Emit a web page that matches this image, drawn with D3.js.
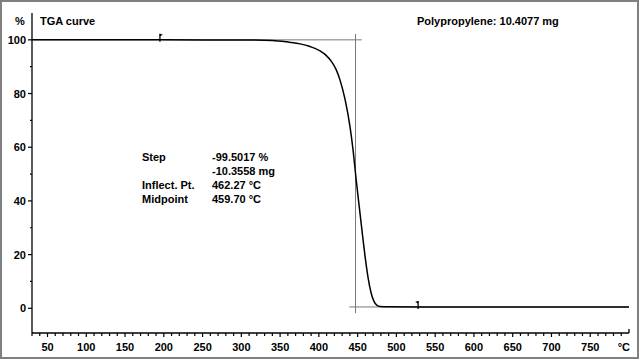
<!DOCTYPE html>
<html><head><meta charset="utf-8">
<script src="https://cdn.jsdelivr.net/npm/d3@7"></script>
<style>html,body{margin:0;padding:0;background:#fff}svg{display:block}text{font-family:"Liberation Sans",Arial,sans-serif;font-weight:bold;font-size:11px;fill:#000}</style>
</head><body><svg id="c" width="640" height="360"></svg>
<script>
// TGA data: temperature (°C) and mass (%)
const temps  = [30, 200, 300, 340, 362, 375.7, 388.6, 401.5, 409, 416.6, 422, 427.3, 433.7, 440.2, 444.0, 447.9, 451.8, 455.6, 459.5, 463.4, 467.3, 471.1, 475.0, 478.9, 490, 530, 600, 700, 800];
const masses = [100, 100, 99.95, 99.8, 99.1, 98.5, 97.5, 95.9, 94.3, 91.8, 89.1, 85.0, 77.9, 67.6, 59.2, 48.5, 38.5, 29.0, 19.5, 11.5, 5.8, 2.6, 1.1, 0.7, 0.55, 0.5, 0.5, 0.5, 0.5];
const xTickLabels = [50, 100, 150, 200, 250, 300, 350, 400, 450, 500, 550, 600, 650, 700, 750];
const yTickLabels = [0, 20, 40, 60, 80, 100];
const yMinorTicks = [10, 30, 50, 70, 90];
const stepStartLevel = 100, stepEndLevel = 0.5, stepTemp = 447.3;
const limitTemps = [195, 528];
const title = "TGA curve", sampleLabel = "Polypropylene: 10.4077 mg";
const resultNames  = ["Step", "", "Inflect. Pt.", "Midpoint"];
const resultValues = ["-99.5017 %", "-10.3558 mg", "462.27 °C", "459.70 °C"];

const svg = d3.select("#c");
svg.append("rect").attr("x",1).attr("y",1).attr("width",637).attr("height",357)
  .attr("fill","#fff").attr("stroke","#808080").attr("stroke-width",2);

const x = d3.scaleLinear().domain([30, 800]).range([32, 629]);
const y = d3.scaleLinear().domain([-9.2, 110]).range([333, 13]);

// Axes lines
svg.append("line").attr("x1",32).attr("x2",32).attr("y1",y(110)).attr("y2",333).attr("stroke","#000").attr("stroke-width",1.3);
svg.append("line").attr("x1",32).attr("x2",629).attr("y1",333).attr("y2",333).attr("stroke","#000").attr("stroke-width",1.3);
svg.append("line").attr("x1",629).attr("x2",629).attr("y1",329).attr("y2",333).attr("stroke","#000").attr("stroke-width",1.3);

// Y ticks
yTickLabels.forEach(v=>{
  svg.append("line").attr("x1",28).attr("x2",32).attr("y1",y(v)).attr("y2",y(v)).attr("stroke","#000").attr("stroke-width",1.2);
  svg.append("text").attr("x",26).attr("y",y(v)+4).attr("text-anchor","end").text(v);
});
yMinorTicks.forEach(v=>{
  svg.append("line").attr("x1",30).attr("x2",32).attr("y1",y(v)).attr("y2",y(v)).attr("stroke","#000").attr("stroke-width",1.2);
});
// X ticks
d3.range(30, 800, 10).forEach(t=>{
  const major = t % 50 === 0;
  svg.append("line").attr("x1",x(t)).attr("x2",x(t)).attr("y1",333).attr("y2",333+(major?4:3)).attr("stroke","#000").attr("stroke-width",1.2);
});
xTickLabels.forEach(t=>{
  svg.append("text").attr("x",x(t)).attr("y",351).attr("text-anchor","middle").text(t);
});
svg.append("text").attr("x",630).attr("y",351).attr("text-anchor","end").text("°C");
svg.append("text").attr("x",15).attr("y",25).text("%");
svg.append("text").attr("x",40).attr("y",25).text(title);
svg.append("text").attr("x",417).attr("y",24.5).text(sampleLabel);

// Step evaluation construction lines
const g = svg.append("g").attr("stroke","#777").attr("stroke-width",1);
g.append("line").attr("x1",x(30)).attr("x2",x(455.3)).attr("y1",y(stepStartLevel)).attr("y2",y(stepStartLevel));
g.append("line").attr("x1",x(439.3)).attr("x2",x(800)).attr("y1",y(stepEndLevel)).attr("y2",y(stepEndLevel));
g.append("line").attr("x1",x(stepTemp)).attr("x2",x(stepTemp)).attr("y1",y(102.2)).attr("y2",y(-1.8));

// Curve
const pts = temps.map((t,i)=>[t, masses[i]]);
svg.append("path").datum(pts).attr("fill","none").attr("stroke","#000").attr("stroke-width",1.5)
  .attr("d", d3.line().x(d=>x(d[0])).y(d=>y(d[1])).curve(d3.curveMonotoneX));

// Limit markers
[[limitTemps[0], stepStartLevel, 1], [limitTemps[1], stepEndLevel, -1]].forEach(([t,v,dir])=>{
  const px = x(t), py = y(v);
  svg.append("line").attr("x1",px).attr("x2",px).attr("y1",py-6).attr("y2",py+2).attr("stroke","#000").attr("stroke-width",1.3);
  svg.append("path").attr("d",`M${px},${py-6}L${px+dir*3},${py-5}L${px},${py-3.5}Z`).attr("fill","#000");
});

// Results text
resultNames.forEach((n,i)=>{
  svg.append("text").attr("x",142).attr("y",161+i*14).text(n);
  svg.append("text").attr("x",212).attr("y",161+i*14).text(resultValues[i]);
});
</script></body></html>
